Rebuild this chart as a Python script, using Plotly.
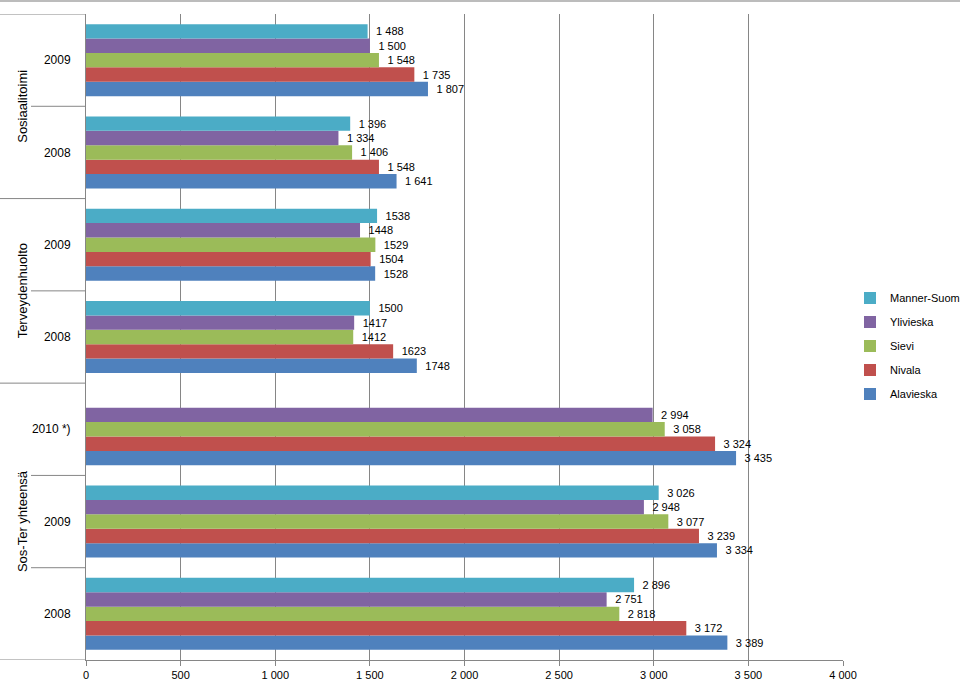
import plotly.graph_objects as go

# ---- data ----
category_ids = ["ST2008", "ST2009", "ST2010", "TH2008", "TH2009", "SO2008", "SO2009"]
year_labels = ["2008", "2009", "2010 *)", "2008", "2009", "2008", "2009"]
groups = ["Sos-Ter yhteensä", "Terveydenhuolto", "Sosiaalitoimi"]
group_centers = [1, 3.5, 5.5]

series_names = ["Alavieska", "Nivala", "Sievi", "Ylivieska", "Manner-Suomi"]
alavieska = [3389, 3334, 3435, 1748, 1528, 1641, 1807]
nivala = [3172, 3239, 3324, 1623, 1504, 1548, 1735]
sievi = [2818, 3077, 3058, 1412, 1529, 1406, 1548]
ylivieska = [2751, 2948, 2994, 1417, 1448, 1334, 1500]
manner = [2896, 3026, None, 1500, 1538, 1396, 1488]

alavieska_txt = ["3 389", "3 334", "3 435", "1748", "1528", "1 641", "1 807"]
nivala_txt = ["3 172", "3 239", "3 324", "1623", "1504", "1 548", "1 735"]
sievi_txt = ["2 818", "3 077", "3 058", "1412", "1529", "1 406", "1 548"]
ylivieska_txt = ["2 751", "2 948", "2 994", "1417", "1448", "1 334", "1 500"]
manner_txt = ["2 896", "3 026", "", "1500", "1538", "1 396", "1 488"]

x_tickvals = [0, 500, 1000, 1500, 2000, 2500, 3000, 3500, 4000]
x_ticktext = ["0", "500", "1 000", "1 500", "2 000", "2 500", "3 000", "3 500", "4 000"]

colors = ["#4F81BD", "#C0504D", "#9BBB59", "#8064A2", "#4BACC6"]

values = [alavieska, nivala, sievi, ylivieska, manner]
texts = [alavieska_txt, nivala_txt, sievi_txt, ylivieska_txt, manner_txt]

FONT = "Liberation Sans"
GRID = "#868686"

fig = go.Figure()
for i, (name, vals, txt, col) in enumerate(zip(series_names, values, texts, colors)):
    fig.add_trace(go.Bar(
        y=category_ids, x=vals, orientation="h", name=name,
        marker=dict(color=col, line=dict(width=0)),
        text=["\u2002" + t if t else "" for t in txt],
        textposition="outside", cliponaxis=False,
        textfont=dict(family=FONT, size=11, color="#000000"),
        legendgroup=name, legendrank=1000 - i,
    ))

shapes = []
# outer group dividers
for yb in [-0.5, 2.5, 4.5, 6.5]:
    shapes.append(dict(type="line", xref="paper", yref="y",
                       x0=-86 / 757, x1=0, y0=yb, y1=yb,
                       line=dict(color=GRID, width=1)))
# inner dividers
for yb in [0.5, 1.5, 3.5, 5.5]:
    shapes.append(dict(type="line", xref="paper", yref="y",
                       x0=-55 / 757, x1=0, y0=yb, y1=yb,
                       line=dict(color=GRID, width=1)))
# top chart border
shapes.append(dict(type="line", xref="paper", yref="paper",
                   x0=-86 / 757, x1=874 / 757, y0=1 + 13 / 646, y1=1 + 13 / 646,
                   line=dict(color="#A6A6A6", width=1.5)))

annotations = []
for g, c in zip(groups, group_centers):
    annotations.append(dict(text=g, xref="paper", yref="y", x=-73 / 757, y=c,
                            textangle=-90, showarrow=False,
                            font=dict(family=FONT, size=13, color="#000000")))

fig.update_layout(
    width=960, height=687,
    margin=dict(l=86, r=117, t=14, b=27, autoexpand=False),
    paper_bgcolor="white", plot_bgcolor="white",
    barmode="group", bargap=0.22, bargroupgap=0,
    font=dict(family=FONT, size=11, color="#000000"),
    xaxis=dict(range=[0, 4000], tickvals=x_tickvals, ticktext=x_ticktext,
               showgrid=True, gridcolor=GRID, gridwidth=1,
               showline=True, linecolor=GRID, linewidth=1,
               ticks="outside", ticklen=5, tickcolor=GRID,
               zeroline=False, tickfont=dict(family=FONT, size=11),
               fixedrange=True),
    yaxis=dict(type="category", categoryorder="array", categoryarray=category_ids,
               range=[-0.5, 6.5], tickvals=category_ids, ticktext=year_labels,
               showline=True, linecolor=GRID, linewidth=1, ticks="",
               ticklabelstandoff=12, showgrid=False,
               tickfont=dict(family=FONT, size=12)),
    legend=dict(x=(850 - 86) / 757, y=0.486, xanchor="left", yanchor="middle",
                traceorder="grouped", tracegroupgap=5,
                font=dict(family=FONT, size=11, color="#000000"),
                bgcolor="rgba(0,0,0,0)"),
    shapes=shapes, annotations=annotations,
)

fig.write_html("out.html", config={"displayModeBar": False},
               post_script="document.body.style.margin='0';document.body.style.padding='0';")
